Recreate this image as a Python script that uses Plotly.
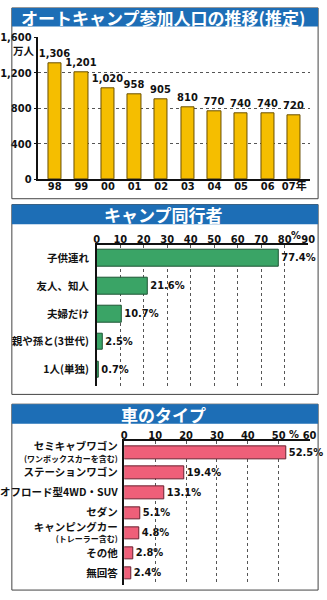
import plotly.graph_objects as go

# ---- data ----
years = ["98", "99", "00", "01", "02", "03", "04", "05", "06", "07年"]
campers = [1306, 1201, 1020, 958, 905, 810, 770, 740, 740, 720]

companion_labels = ["子供連れ", "友人、知人", "夫婦だけ", "親や孫と(3世代)", "1人(単独)"]
companion_pct = [77.4, 21.6, 10.7, 2.5, 0.7]

car_names = ["セミキャブワゴン", "ステーションワゴン", "オフロード型4WD・SUV", "セダン",
             "キャンピングカー", "その他", "無回答"]
car_notes = ["(ワンボックスカーを含む)", "", "", "", "(トレーラー含む)", "", ""]
car_pct = [52.5, 19.4, 13.1, 5.1, 4.8, 2.8, 2.4]

titles = ["オートキャンプ参加人口の推移(推定)", "キャンプ同行者", "車のタイプ"]

# ---- styling ----
W, H = 327, 600
JP = "Noto Sans CJK JP"
NUM = "Liberation Sans Narrow, DejaVu Sans Condensed, Roboto, " + JP
BLUE = "#1D6EB6"
YELLOW = "#F5BE00"
GREEN = "#3AA466"
PINK = "#EF5F79"
GRID = "#555555"


def px(x):
    return x / W


def py(y):
    return 1 - y / H


num_font = dict(family=NUM, size=11, color="#111", weight="bold")

# car-type tick labels: name in regular size, optional note in a smaller second line
car_ticktext = []
for name, note in zip(car_names, car_notes):
    label = f"<span style='font-size:10.5px'>{name}</span>"
    if note:
        label += f"<br><span style='font-size:8px'>{note}</span>"
    car_ticktext.append(label)

fig = go.Figure()

# yearly participation (vertical bars)
fig.add_trace(go.Bar(
    x=years, y=campers, xaxis="x", yaxis="y",
    marker=dict(color=YELLOW, line=dict(color="#6A5000", width=1)),
    width=0.5,
    texttemplate="%{y:,}", textposition="outside", cliponaxis=False,
    constraintext="none", textfont=num_font,
    showlegend=False,
))

# companions (horizontal bars)
fig.add_trace(go.Bar(
    y=companion_labels, x=companion_pct, orientation="h", xaxis="x2", yaxis="y2",
    marker=dict(color=GREEN, line=dict(color="#1E5533", width=1)),
    width=0.6,
    text=[f"{v}%" for v in companion_pct], textposition="outside", cliponaxis=False,
    constraintext="none", textfont=num_font,
    showlegend=False,
))

# car types (horizontal bars)
fig.add_trace(go.Bar(
    y=car_names, x=car_pct, orientation="h", xaxis="x3", yaxis="y3",
    marker=dict(color=PINK, line=dict(color="#6A2030", width=1)),
    width=0.62,
    text=[f"{v}%" for v in car_pct], textposition="outside", cliponaxis=False,
    constraintext="none", textfont=num_font,
    showlegend=False,
))

shapes = []
annotations = []

# panel frames and blue title bars
panels = [(2, 21, 197), (203, 223, 397), (407, 427, 597)]
for (top, bar_bottom, bottom), title in zip(panels, titles):
    shapes.append(dict(type="rect", xref="paper", yref="paper",
                       x0=px(3), x1=px(325), y0=py(bottom), y1=py(top),
                       line=dict(color="#444", width=1), fillcolor="rgba(0,0,0,0)"))
    shapes.append(dict(type="rect", xref="paper", yref="paper",
                       x0=px(3), x1=px(325), y0=py(bar_bottom), y1=py(top),
                       line=dict(width=0), fillcolor=BLUE))
    annotations.append(dict(text=title, xref="paper", yref="paper",
                            x=px(162), y=py((top + bar_bottom) / 2 + 0.5),
                            xanchor="center", yanchor="middle", showarrow=False,
                            font=dict(family=JP, size=17, color="white", weight="bold")))

annotations.append(dict(text="万人", xref="paper", yref="paper", x=px(15.5), y=py(45),
                        xanchor="center", yanchor="middle", showarrow=False,
                        font=dict(family=JP, size=10.5, color="#111", weight="bold")))
annotations.append(dict(text="%", xref="x2", yref="paper", x=85, y=py(235),
                        xanchor="center", yanchor="middle", showarrow=False,
                        font=num_font))
annotations.append(dict(text="%", xref="x3", yref="paper", x=55, y=py(438),
                        xanchor="center", yanchor="middle", showarrow=False,
                        font=num_font))

cat_font = dict(family=JP, size=10.5, color="#111", weight="bold")
car_font = dict(family=JP, size=9, color="#111", weight="bold")

fig.update_layout(
    width=W, height=H, margin=dict(l=0, r=0, t=0, b=0),
    paper_bgcolor="white", plot_bgcolor="white",
    shapes=shapes, annotations=annotations,
    bargap=0,
    # chart 1
    xaxis=dict(domain=[px(31), px(317)], anchor="y", type="category",
               range=[-0.61, 9.61], showline=True, linecolor="#111", linewidth=1.5,
               ticks="", ticklabelstandoff=-4, tickfont=num_font,
               showgrid=False, fixedrange=True),
    yaxis=dict(domain=[py(177), py(32)], anchor="x", range=[0, 1600],
               tickvals=[0, 400, 800, 1200, 1600],
               ticktext=["0", "400", "800", "1,200", "1,600"],
               showline=True, linecolor="#111", linewidth=1.5,
               ticks="outside", ticklen=3, tickcolor="#111",
               showgrid=True, gridcolor=GRID, griddash="dot", gridwidth=1,
               zeroline=False, tickfont=num_font, fixedrange=True),
    # chart 2
    xaxis2=dict(domain=[px(92.3), px(314.6)], anchor="y2", side="top",
                range=[0, 90], tickvals=list(range(0, 100, 10)),
                showline=True, linecolor="#111", linewidth=1.5, ticks="",
                ticklabelstandoff=-4,
                showgrid=True, gridcolor=GRID, griddash="dot", gridwidth=1,
                zeroline=False, tickfont=num_font, fixedrange=True),
    yaxis2=dict(domain=[py(388), py(244)], anchor="x2", type="category",
                range=[4.57, -0.48], showline=True, linecolor="#111", linewidth=1.5,
                ticks="", ticklabelstandoff=4, tickfont=cat_font,
                showgrid=False, fixedrange=True),
    # chart 3
    xaxis3=dict(domain=[px(121.2), px(316)], anchor="y3", side="top",
                range=[0, 60], tickvals=list(range(0, 70, 10)),
                showline=True, linecolor="#111", linewidth=1.5, ticks="",
                ticklabelstandoff=-4,
                showgrid=True, gridcolor=GRID, griddash="dot", gridwidth=1,
                zeroline=False, tickfont=num_font, fixedrange=True),
    yaxis3=dict(domain=[py(592), py(445)], anchor="x3", type="category",
                range=[6.58, -0.57], tickvals=car_names, ticktext=car_ticktext,
                showline=True, linecolor="#111", linewidth=1.5,
                ticks="", ticklabelstandoff=3, tickfont=car_font,
                showgrid=False, fixedrange=True),
)

fig.write_html("out.html")
